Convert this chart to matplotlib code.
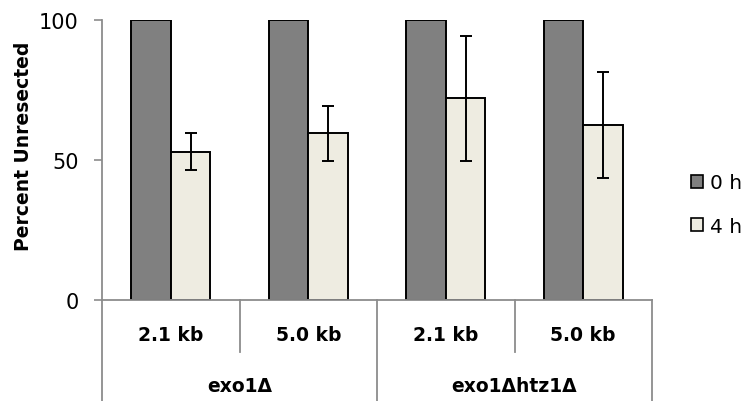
import numpy as np
import matplotlib
matplotlib.use("Agg")
import matplotlib.pyplot as plt
from matplotlib.patches import Patch

plt.rcParams['font.family'] = ['DejaVu Sans']

# Data
sites = ["2.1 kb", "5.0 kb", "2.1 kb", "5.0 kb"]
strains = ["exo1Δ", "exo1Δhtz1Δ"]
pct_0h = [100, 100, 100, 100]
pct_4h = [53, 59.5, 72, 62.5]
err_4h = [6.5, 9.8, 22.4, 19]
series_names = ["0 h", "4 h"]

dark = "#808080"
light = "#EEECE1"
axis_grey = "#8c8c8c"

W, H = 750, 402
fig = plt.figure(figsize=(W / 100, H / 100), dpi=100)
ax = fig.add_axes([102 / W, 1 - 301 / H, (652 - 102) / W, 280 / H])

x = np.arange(len(sites))
w = 0.288
ax.bar(x - w / 2, pct_0h, w, color=dark, edgecolor="black", linewidth=1.4, label=series_names[0])
ax.bar(x + w / 2, pct_4h, w, color=light, edgecolor="black", linewidth=1.4, label=series_names[1])
ax.errorbar(x + w / 2, pct_4h, yerr=err_4h, fmt="none", ecolor="black",
            elinewidth=1.4, capsize=4.6, capthick=1.4)

ax.set_xlim(-0.5, len(sites) - 0.5)
ax.set_ylim(0, 100)
ax.set_yticks([0, 50, 100])
ax.tick_params(axis="y", length=5.8, width=1.2, color=axis_grey, labelsize=15, pad=11)
ax.set_xticks([])
for s in ["top", "right"]:
    ax.spines[s].set_visible(False)
for s in ["left", "bottom"]:
    ax.spines[s].set_color(axis_grey)
    ax.spines[s].set_linewidth(1.3)

ax.text(-0.142, 0.554, "Percent Unresected", transform=ax.transAxes, rotation=90,
        ha="center", va="center", fontsize=13.5, fontweight="bold")

# two-level category axis below the plot
trans = ax.get_xaxis_transform()
short_y = (301 - 353) / 280
long_y = (301 - 403) / 280
for xs in np.arange(-0.5, len(sites), 1.0):
    idx = int(xs + 0.5)
    bottom = long_y if idx % 2 == 0 else short_y
    ax.plot([xs, xs], [0, bottom], color=axis_grey, lw=1.3, transform=trans, clip_on=False)

for xi, lab in zip(x, sites):
    ax.text(xi, (301 - 336) / 280, lab, transform=trans, ha="center", va="center",
            fontsize=13.5, fontweight="bold")
for gi, lab in enumerate(strains):
    ax.text(2 * gi + 0.5, (301 - 387) / 280, lab, transform=trans, ha="center", va="center",
            fontsize=13.5, fontweight="bold")

handles = [Patch(facecolor=dark, edgecolor="black", linewidth=1.2),
           Patch(facecolor=light, edgecolor="black", linewidth=1.2)]
fig.legend(handles, series_names, loc="center left", bbox_to_anchor=(691 / W, 1 - 205.5 / H),
           frameon=False, fontsize=14.5, handlelength=0.62, handleheight=0.62,
           handletextpad=0.3, labelspacing=1.2, borderaxespad=0, borderpad=0)

fig.savefig("out.png", dpi=100)
